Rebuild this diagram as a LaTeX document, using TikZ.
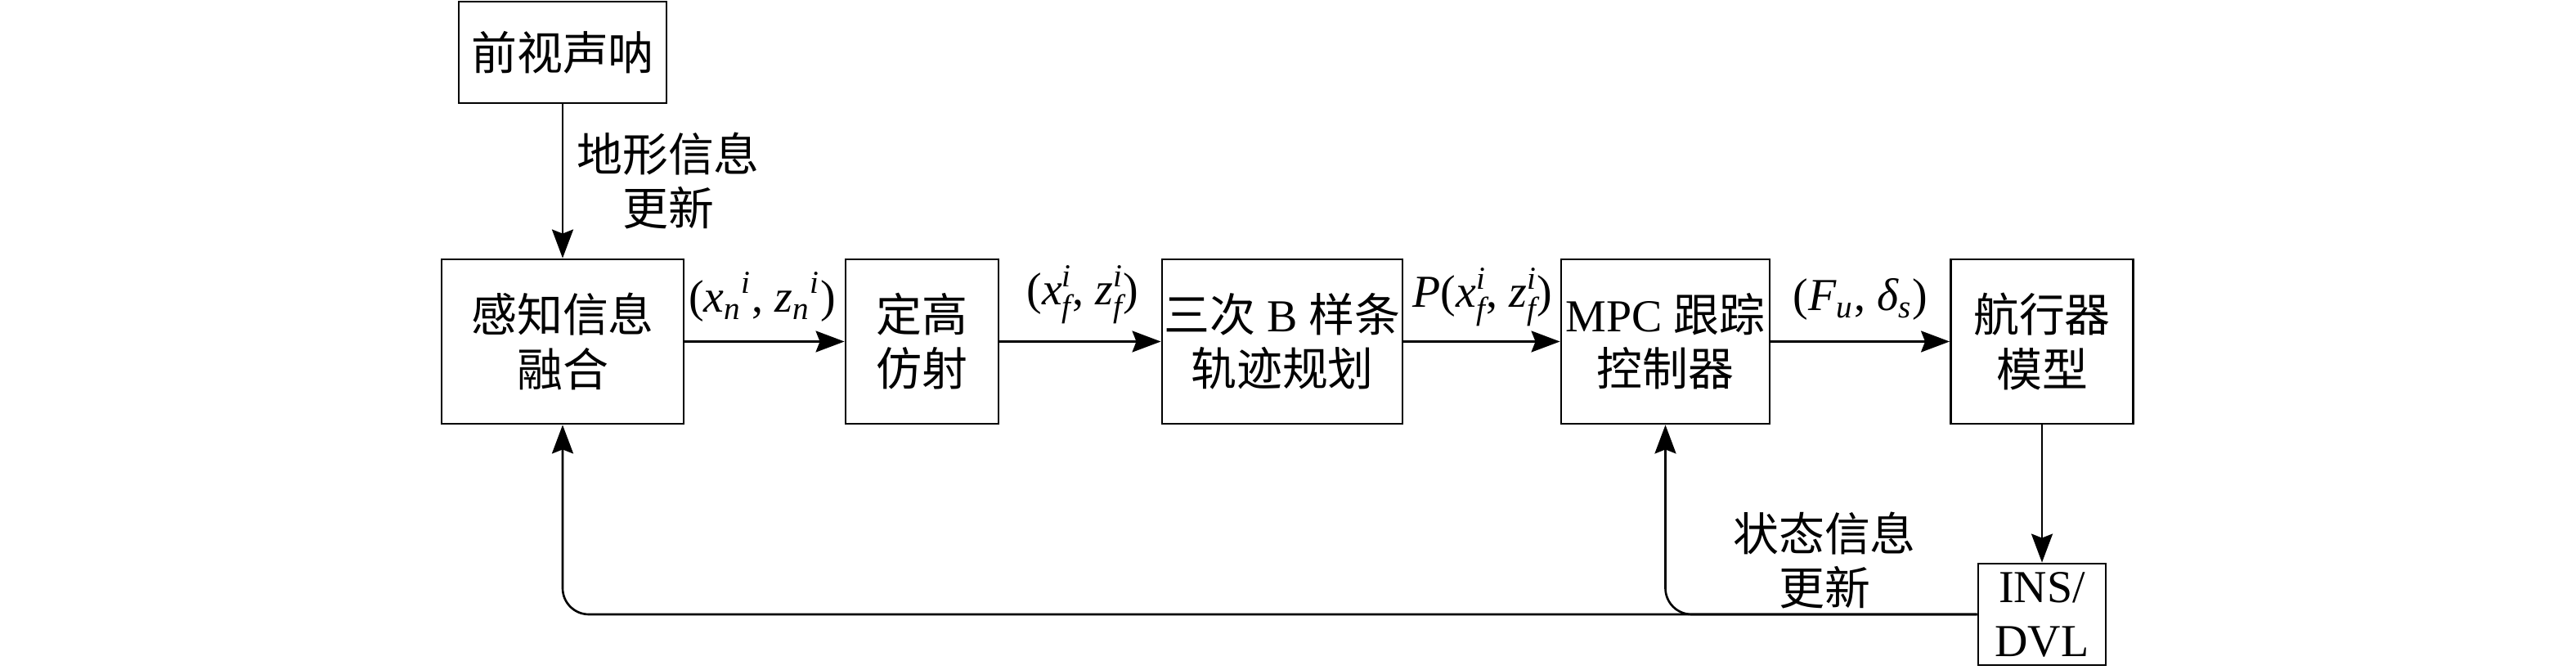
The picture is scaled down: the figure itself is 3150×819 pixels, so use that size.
\documentclass[tikz,border=0pt]{standalone}
\usepackage{fontspec}
\usepackage{amsmath}
\setmainfont{Liberation Serif}
\newfontfamily\cjk{Noto Sans CJK SC}
\usetikzlibrary{arrows.meta}
\newcommand\mvar[1]{\text{\itshape #1}}
\newcommand\sv[3]{\textit{#1}$_{\mvar{#2}}^{\mvar{#3}}$}
\newcommand\fs{\fontsize{15.9pt}{18.8pt}\selectfont}
\begin{document}
\begin{tikzpicture}[x=0.01cm,y=-0.01cm,
  box/.style={draw, line width=0.78pt, align=center, inner sep=0pt, font=\fs},
  cbox/.style={box, font=\fs\cjk},
  lab/.style={align=center, inner sep=0pt, font=\fs},
  clab/.style={lab, font=\fs\cjk},
  arr/.style={-{Stealth[length=0.35cm,width=0.26cm,inset=0.05cm]}, line width=0.75pt}]
\useasboundingbox (0,0) rectangle (3150,819);
\fill[white] (0,0) rectangle (3150,819);
% boxes
\node[cbox, minimum width=2.54cm, minimum height=1.24cm] (sonar) at (688,64) {前视声呐};
\node[cbox, minimum width=2.96cm, minimum height=2.01cm] (fuse) at (688,417.5) {感知信息\\融合};
\node[cbox, minimum width=1.87cm, minimum height=2.01cm] (fix) at (1127.5,417.5) {定高\\仿射};
\node[box, minimum width=2.94cm, minimum height=2.01cm] (bspl) at (1568,417.5) {{\cjk 三次} B {\cjk 样条}\\{\cjk 轨迹规划}};
\node[box, minimum width=2.55cm, minimum height=2.01cm] (mpc) at (2036.5,417.5) {MPC {\cjk 跟踪}\\{\cjk 控制器}};
\node[cbox, minimum width=2.23cm, minimum height=2.01cm] (veh) at (2497,417.5) {航行器\\模型};
\node[box, minimum width=1.56cm, minimum height=1.24cm] (ins) at (2497,751) {INS/\\DVL};
% arrows
\draw[arr] (sonar) -- (fuse);
\draw[arr] (fuse) -- (fix);
\draw[arr] (fix) -- (bspl);
\draw[arr] (bspl) -- (mpc);
\draw[arr] (mpc) -- (veh);
\draw[arr] (veh) -- (ins);
\draw[arr, rounded corners=0.32cm] (ins.west) -| (fuse.south);
\draw[arr, rounded corners=0.32cm] (ins.west) -| (mpc.south);
% labels
\node[clab] (lt) at (817,221) {地形信息\\更新};
\node[lab] (l1) at (932,363) {(\textit{x}$_{\mvar n}{}^{\mvar i}$, \textit{z}$_{\mvar n}{}^{\mvar i}$)};
\node[lab] (l2) at (1324,360) {(\sv{x}{f}{i}, \sv{z}{f}{i})};
\node[lab] (l3) at (1813,363) {\textit{P}(\sv{x}{f}{i}, \sv{z}{f}{i})};
\node[lab] (l4) at (2275,366) {(\textit{F}$_{\mvar u}$, \textit{δ}$_{\mvar s}$)};
\node[clab] (ls) at (2231,685) {状态信息\\更新};
\end{tikzpicture}
\end{document}
